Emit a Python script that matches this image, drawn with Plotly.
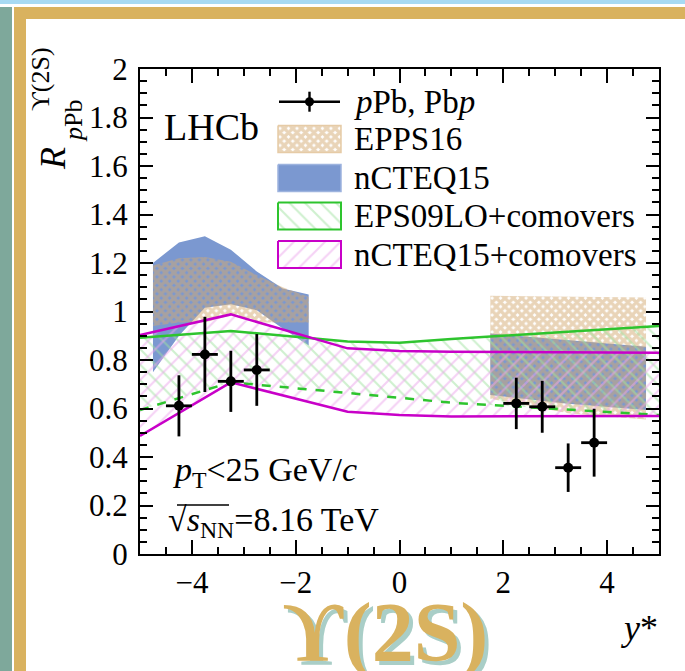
import plotly.graph_objects as go

# ---------------------------------------------------------------- data
# Upsilon(2S) nuclear modification factor vs. rapidity y*
y_star = [-4.25, -3.75, -3.25, -2.75, 2.25, 2.75, 3.25, 3.75]
y_half = [0.25, 0.25, 0.25, 0.25, 0.25, 0.25, 0.25, 0.25]
r_val = [0.611, 0.823, 0.712, 0.759, 0.621, 0.607, 0.356, 0.459]
r_err = [0.126, 0.155, 0.126, 0.148, 0.106, 0.107, 0.100, 0.140]

# nPDF bands (backward and forward)
bwd_y = [-4.75, -4.25, -3.75, -3.25, -2.75, -2.25, -1.75]
epps_bwd_hi = [1.19, 1.22, 1.225, 1.205, 1.15, 1.10, 1.06]
epps_bwd_lo = [0.94, 0.955, 0.955, 0.985, 0.955, 0.955, 0.955]
ncteq_bwd_hi = [1.20, 1.285, 1.31, 1.255, 1.165, 1.095, 1.07]
ncteq_bwd_lo = [0.75, 0.90, 1.015, 1.03, 1.005, 0.93, 0.86]

fwd_y = [1.75, 3.25, 4.75]
epps_fwd_hi = [1.065, 1.062, 1.058]
epps_fwd_lo = [0.64, 0.58, 0.555]
ncteq_fwd_hi = [0.909, 0.882, 0.855]
ncteq_fwd_lo = [0.656, 0.62, 0.594]

# comover calculations
com_y = [-5, -3.25, -1, 0, 1, 5]
eps09c_hi = [0.892, 0.92, 0.876, 0.871, 0.887, 0.94]
eps09c_lo = [0.594, 0.708, 0.664, 0.645, 0.624, 0.573]
ncteqc_hi = [0.903, 0.988, 0.848, 0.837, 0.834, 0.83]
ncteqc_lo = [0.487, 0.708, 0.587, 0.573, 0.567, 0.569]

legend_labels = ["<i>p</i>Pb, Pb<i>p</i>", "EPPS16", "nCTEQ15",
                 "EPS09LO+comovers", "nCTEQ15+comovers"]

# ---------------------------------------------------------------- style
W, H = 685, 671
L, R, T, B = 140, 659, 69, 554          # frame of the plot area (px)
SERIF = "Liberation Serif"

TAN = "#D4AA72"
BLUE = "#7B98D0"
GREEN = "#2EC42E"
GREEN_H = "#9FE29F"
MAG = "#C800C8"
MAG_H = "#ECA6EC"
GOLD = "#D9B25F"
TEAL = "#7EA89B"
SKY = "#A8DAF3"


def px(x):
    return (x - L) / (R - L)


def py(y):
    return (B - y) / (B - T)


def band(xs, hi, lo, **kw):
    return go.Scatter(x=list(xs) + list(xs)[::-1], y=list(hi) + list(lo)[::-1],
                      fill="toself", mode="lines", line=dict(width=0),
                      hoverinfo="skip", showlegend=False, **kw)


pat_epps = dict(shape="x", fgcolor=TAN, bgcolor="rgba(0,0,0,0)", size=6, solidity=0.8)
pat_eps09 = dict(shape="\\", fgcolor=GREEN_H, bgcolor="rgba(0,0,0,0)", size=11, solidity=0.2)
pat_ncteqc = dict(shape="/", fgcolor=MAG_H, bgcolor="rgba(0,0,0,0)", size=11, solidity=0.2)

fig = go.Figure()

# nCTEQ15 (solid) then EPPS16 (cross-hatched) on top
for xs, hi, lo in [(bwd_y, ncteq_bwd_hi, ncteq_bwd_lo), (fwd_y, ncteq_fwd_hi, ncteq_fwd_lo)]:
    fig.add_trace(band(xs, hi, lo, fillcolor=BLUE))
for xs, hi, lo in [(bwd_y, epps_bwd_hi, epps_bwd_lo), (fwd_y, epps_fwd_hi, epps_fwd_lo)]:
    fig.add_trace(band(xs, hi, lo, fillcolor="rgba(0,0,0,0)", fillpattern=pat_epps))

# comover hatched bands
fig.add_trace(band(com_y, eps09c_hi, eps09c_lo, fillcolor="rgba(0,0,0,0)", fillpattern=pat_eps09))
fig.add_trace(band(com_y, ncteqc_hi, ncteqc_lo, fillcolor="rgba(0,0,0,0)", fillpattern=pat_ncteqc))

# comover band edges
for ys, col, dash in [(eps09c_hi, GREEN, "solid"), (eps09c_lo, GREEN, "dash"),
                      (ncteqc_hi, MAG, "solid"), (ncteqc_lo, MAG, "solid")]:
    fig.add_trace(go.Scatter(x=com_y, y=ys, mode="lines", showlegend=False,
                             line=dict(color=col, width=2.5, dash=dash)))

# measurements
fig.add_trace(go.Scatter(
    x=y_star, y=r_val, mode="markers", showlegend=False,
    marker=dict(color="black", size=10),
    error_y=dict(type="data", array=r_err, color="black", thickness=2.8, width=0),
    error_x=dict(type="data", array=y_half, color="black", thickness=2.8, width=0),
))

# ---------------------------------------------------------------- legend
# drawn on an overlay axis measured in pixels
row_y = [101.7, 139, 178, 216, 254.5]
box_x0, box_x1, box_h = 278, 341, 13.5
mid_x = (box_x0 + box_x1) / 2

fig.add_trace(go.Scatter(
    x=[mid_x], y=[row_y[0]], xaxis="x2", yaxis="y2", mode="markers", showlegend=False,
    marker=dict(color="black", size=9),
    error_x=dict(type="constant", value=(box_x1 - box_x0) / 2 - 1, color="black", thickness=2.4, width=0),
    error_y=dict(type="constant", value=10, color="black", thickness=2.4, width=0),
))


def swatch(yc, **kw):
    return go.Scatter(x=[box_x0, box_x1, box_x1, box_x0, box_x0],
                      y=[yc - box_h, yc - box_h, yc + box_h, yc + box_h, yc - box_h],
                      xaxis="x2", yaxis="y2", fill="toself", mode="lines",
                      showlegend=False, hoverinfo="skip", **kw)


fig.add_trace(swatch(row_y[1], fillcolor="rgba(0,0,0,0)", fillpattern=pat_epps,
                     line=dict(color="#E6CBA6", width=1.5)))
fig.add_trace(swatch(row_y[2], fillcolor=BLUE, line=dict(color="#9DB3DE", width=1.5)))
fig.add_trace(swatch(row_y[3], fillcolor="rgba(0,0,0,0)", fillpattern=pat_eps09,
                     line=dict(color=GREEN, width=2)))
fig.add_trace(swatch(row_y[4], fillcolor="rgba(0,0,0,0)", fillpattern=pat_ncteqc,
                     line=dict(color=MAG, width=2)))

annotations = []
for yc, lab in zip(row_y, legend_labels):
    annotations.append(dict(text=lab, x=px(352), y=py(yc), xanchor="left", yanchor="middle",
                            font=dict(family=SERIF, size=33, color="black")))

# ---------------------------------------------------------------- texts
annotations += [
    dict(text="LHCb", x=px(162), y=py(127), xanchor="left", yanchor="middle",
         font=dict(family=SERIF, size=38, color="black")),
    dict(text="<i>p</i><sub>T</sub><25 GeV/<i>c</i>", x=px(171), y=py(472),
         xanchor="left", yanchor="middle", font=dict(family=SERIF, size=34, color="black")),
    dict(text="√<i>s</i><sub>NN</sub>=8.16 TeV", x=px(166), y=py(522),
         xanchor="left", yanchor="middle", font=dict(family=SERIF, size=34, color="black")),
    dict(text="<i>y</i>*", x=px(660), y=py(628), xanchor="right", yanchor="middle",
         font=dict(family=SERIF, size=36, color="black")),
    # y-axis title pieces
    dict(text="<i>R</i>", x=px(53), y=py(159), textangle=-90, xanchor="center", yanchor="middle",
         font=dict(family=SERIF, size=36, color="black")),
    dict(text="ϒ(2S)", x=px(40), y=py(79), textangle=-90, xanchor="center", yanchor="middle",
         font=dict(family=SERIF, size=26, color="black")),
    dict(text="<i>p</i>Pb", x=px(74), y=py(121), textangle=-90, xanchor="center", yanchor="middle",
         font=dict(family=SERIF, size=26, color="black")),
    # big caption with a soft shadow
    dict(text="<b>ϒ(2S)</b>", x=px(389), y=py(637), xanchor="center", yanchor="middle",
         font=dict(family=SERIF, size=84, color="#A9CEC7")),
    dict(text="<b>ϒ(2S)</b>", x=px(385), y=py(633), xanchor="center", yanchor="middle",
         font=dict(family=SERIF, size=84, color=GOLD)),
]
for a in annotations:
    a.setdefault("xref", "paper")
    a.setdefault("yref", "paper")
    a.setdefault("showarrow", False)

# ---------------------------------------------------------------- frame decoration
shapes = [
    dict(type="rect", x0=px(0), x1=px(W), y0=py(0), y1=py(4), fillcolor=SKY, line_width=0),
    dict(type="rect", x0=px(14), x1=px(W), y0=py(7), y1=py(19), fillcolor=GOLD, line_width=0),
    dict(type="rect", x0=px(0), x1=px(12), y0=py(7), y1=py(H), fillcolor=TEAL, line_width=0),
    dict(type="rect", x0=px(14), x1=px(26), y0=py(7), y1=py(H), fillcolor=GOLD, line_width=0),
    # radical bar over s_NN
    dict(type="line", x0=px(177), x1=px(229), y0=py(505), y1=py(505),
         line=dict(color="black", width=1.5)),
]
for s in shapes:
    s["xref"] = "paper"
    s["yref"] = "paper"

axis_common = dict(
    showline=True, linewidth=2, linecolor="black", mirror="ticks",
    ticks="inside", tickwidth=2, tickcolor="black", showgrid=False, zeroline=False,
    tickfont=dict(family=SERIF, size=31, color="black"),
)

fig.update_layout(
    width=W, height=H,
    margin=dict(l=L, r=W - R, t=T, b=H - B),
    paper_bgcolor="white", plot_bgcolor="white",
    showlegend=False,
    font=dict(family=SERIF, color="black"),
    xaxis=dict(range=[-5, 5], tick0=0, dtick=2, ticklen=14,
               minor=dict(dtick=0.5, ticklen=7, tickwidth=2, ticks="inside", tickcolor="black"),
               ticklabelstandoff=0, **axis_common),
    yaxis=dict(range=[0, 2], tick0=0, dtick=0.2, ticklen=13,
               minor=dict(dtick=0.05, ticklen=7, tickwidth=2, ticks="inside", tickcolor="black"),
               ticklabelstandoff=4, **axis_common),
    xaxis2=dict(range=[L, R], overlaying="x", anchor="y2", visible=False),
    yaxis2=dict(range=[B, T], overlaying="y", anchor="x2", visible=False),
    annotations=annotations,
    shapes=shapes,
)

fig.write_html("out.html")
